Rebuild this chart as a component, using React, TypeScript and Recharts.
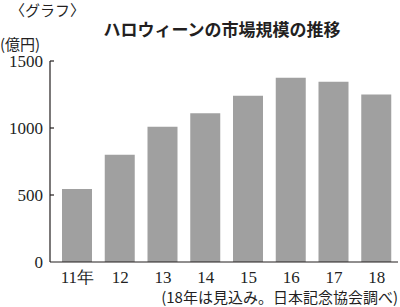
import React from 'react';
import { BarChart, Bar, XAxis, YAxis } from 'recharts';

const years = ['11年', '12', '13', '14', '15', '16', '17', '18'];
const marketSize = [545, 800, 1010, 1110, 1240, 1375, 1345, 1250];
const yTicks = [0, 500, 1000, 1500];

const data = years.map((year, i) => ({ year, value: marketSize[i] }));

const INK = '#231f1f';
const SERIF = '"Liberation Serif", "DejaVu Serif", serif';
const CJK = '"Noto Sans CJK JP", "Noto Sans", sans-serif';

function YTick(props: any) {
  const { x, y, payload } = props;
  return (
    <g>
      {payload.value !== 0 && (
        <line x1={x} y1={y} x2={x + 4} y2={y} stroke={INK} strokeWidth={1.2} />
      )}
      <text
        x={x - 7}
        y={y}
        dy="0.36em"
        textAnchor="end"
        fill={INK}
        fontFamily={SERIF}
        fontSize={17}
      >
        {payload.value}
      </text>
    </g>
  );
}

function XTick(props: any) {
  const { x, y, payload } = props;
  return (
    <text
      x={x}
      y={y}
      dy="0.71em"
      textAnchor="middle"
      fill={INK}
      fontFamily={SERIF}
      fontSize={17}
    >
      {payload.value}
    </text>
  );
}

export default function App() {
  return (
    <div style={{ position: 'absolute', left: 0, top: 0, width: 400, height: 307, background: '#fff' }}>
      <BarChart
        width={400}
        height={307}
        data={data}
        margin={{ top: 61, right: 2, bottom: 0, left: 0 }}
      >
        <XAxis
          dataKey="year"
          height={45}
          padding={{ left: 6, right: 0 }}
          axisLine={{ stroke: INK, strokeWidth: 1.2 }}
          tickLine={false}
          tickSize={0}
          tickMargin={9}
          tick={<XTick />}
          interval={0}
        />
        <YAxis
          width={50}
          domain={[0, 1500]}
          ticks={yTicks}
          axisLine={{ stroke: INK, strokeWidth: 1.2 }}
          tickLine={false}
          tickSize={0}
          tickMargin={0}
          tick={<YTick />}
          interval={0}
        />
        <Bar dataKey="value" fill="#a0a0a0" barSize={30} isAnimationActive={false} />
      </BarChart>
      <svg
        width={400}
        height={307}
        style={{ position: 'absolute', left: 0, top: 0, pointerEvents: 'none' }}
      >
        <text x={10} y={16} fill={INK} fontFamily={CJK} fontSize={15}>
          〈グラフ〉
        </text>
        <text x={222} y={36} textAnchor="middle" fill={INK} fontFamily={CJK} fontSize={17} fontWeight={700}>
          ハロウィーンの市場規模の推移
        </text>
        <text x={0} y={50} fill={INK} fontFamily={CJK} fontSize={15}>
          (億円)
        </text>
        <text x={398} y={303} textAnchor="end" fill={INK} fontFamily={CJK} fontSize={15}>
          (18年は見込み。日本記念協会調べ)
        </text>
      </svg>
    </div>
  );
}
